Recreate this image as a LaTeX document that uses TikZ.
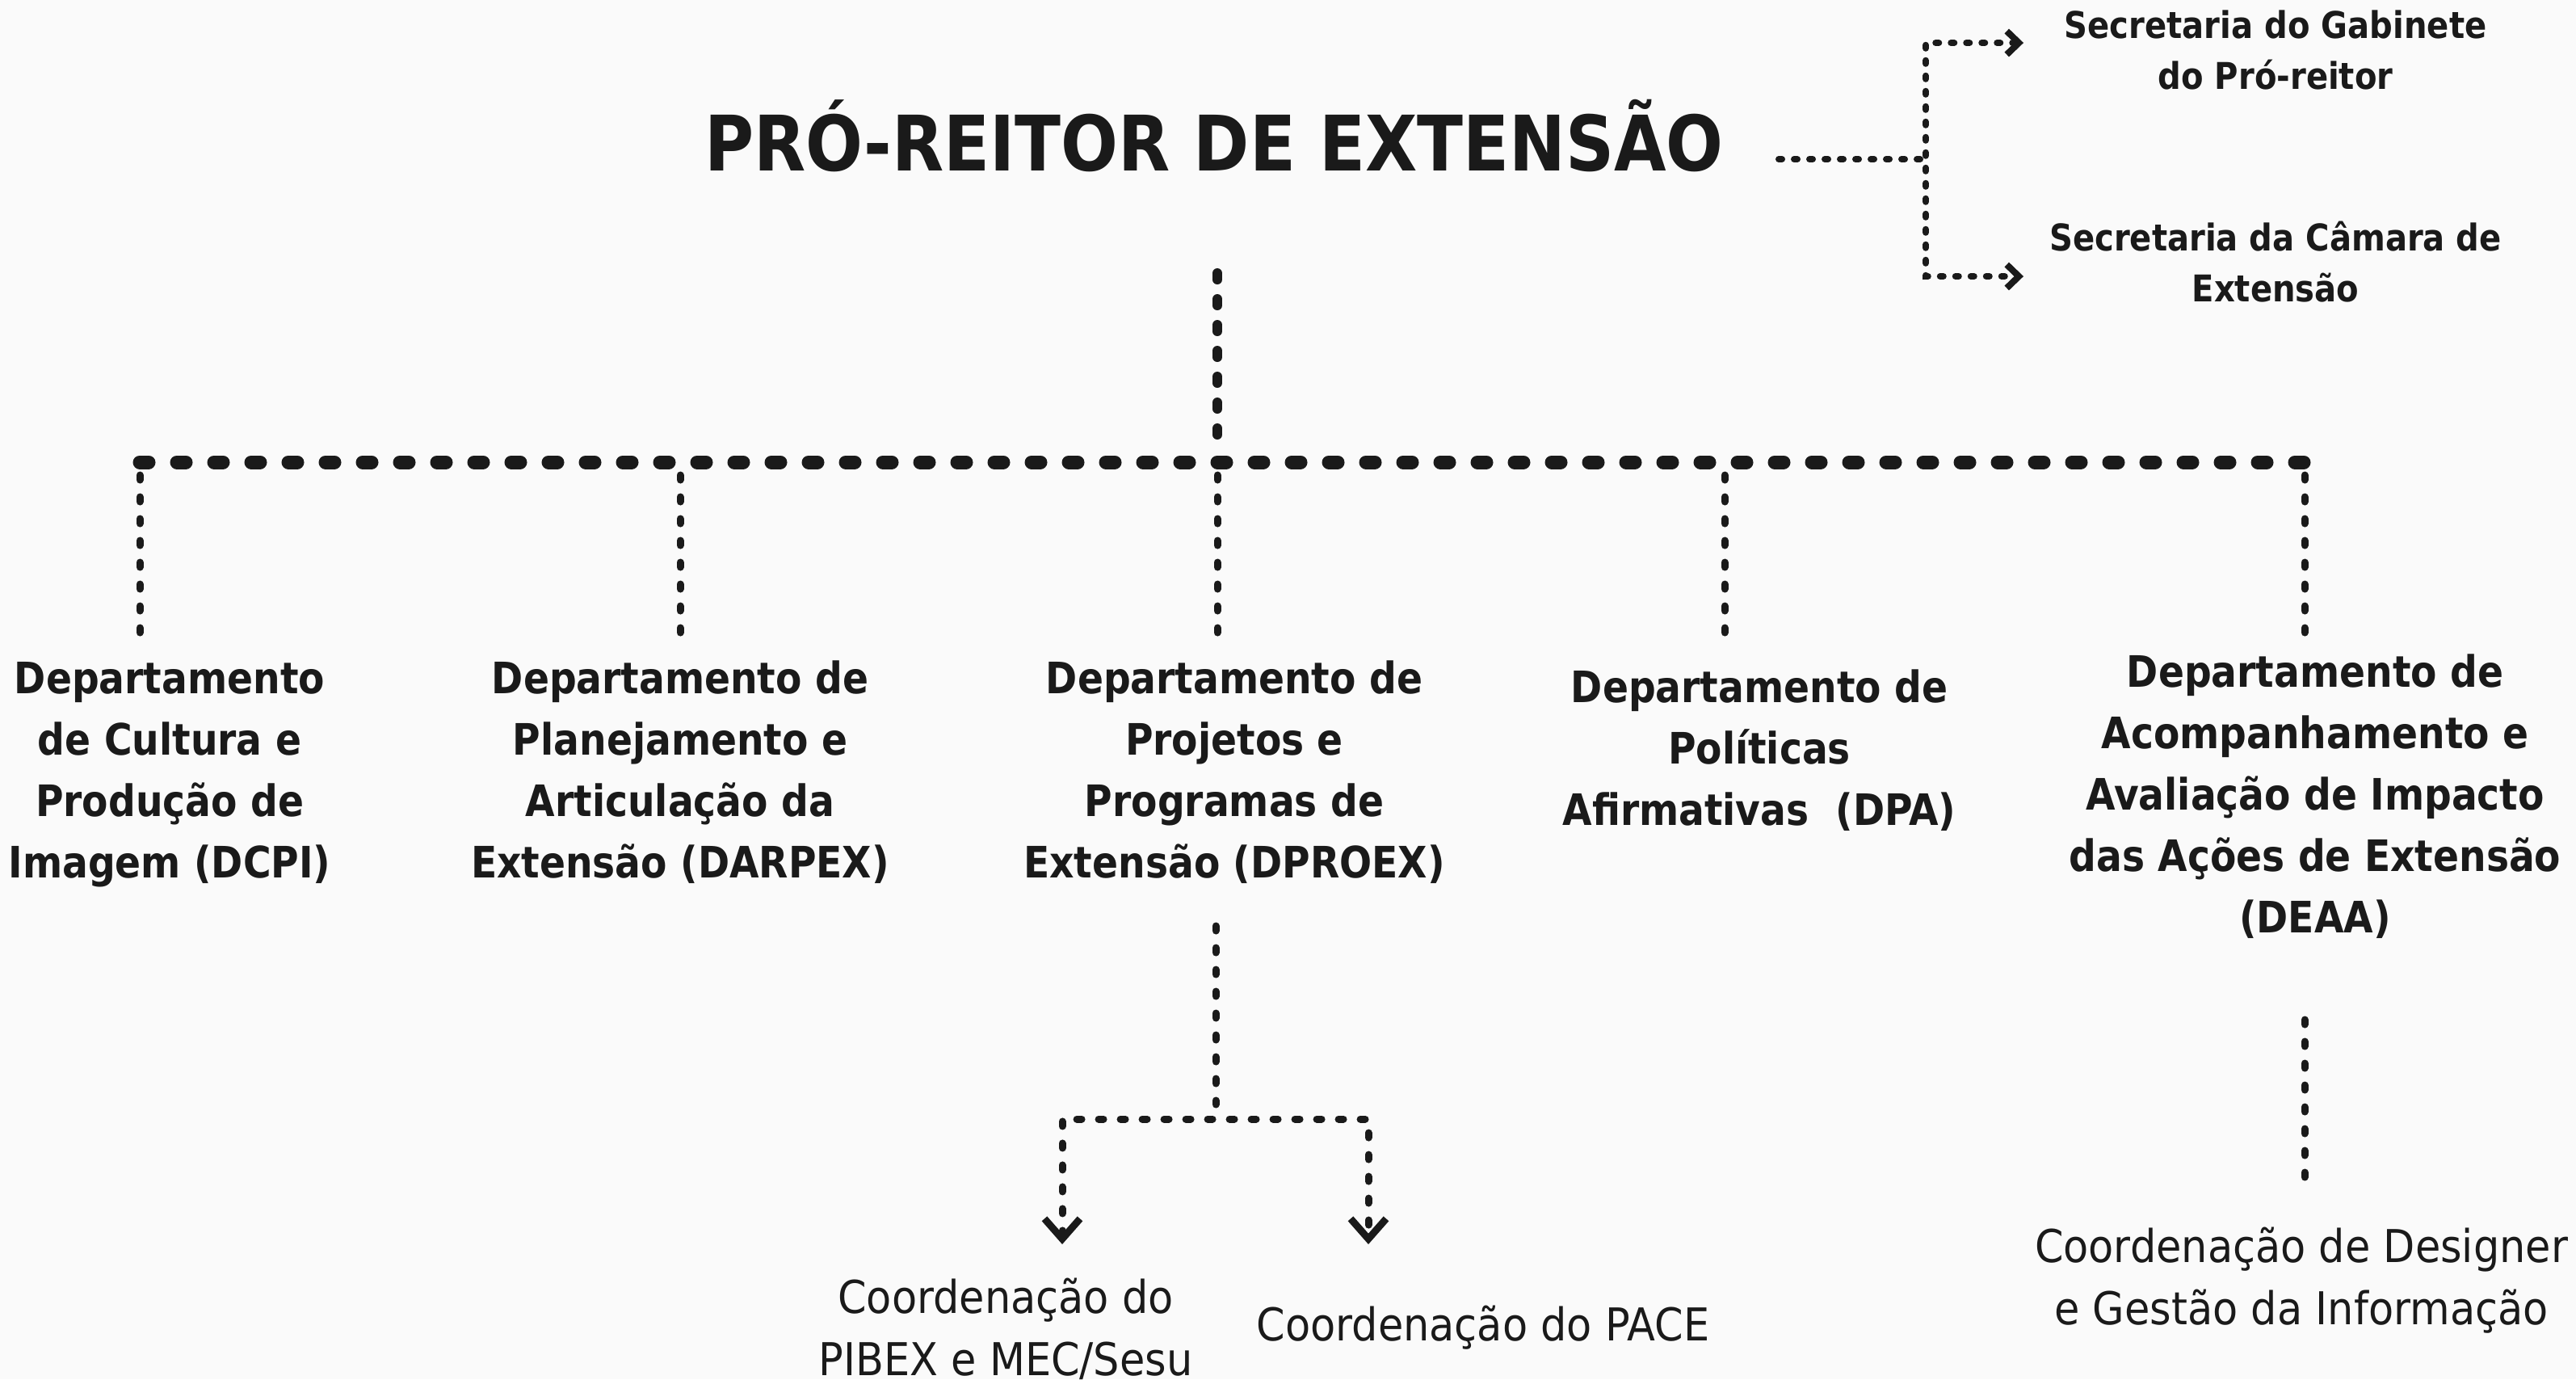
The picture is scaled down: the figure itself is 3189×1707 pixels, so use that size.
\documentclass[tikz,border=0pt]{standalone}
\usepackage{fontspec}
\setmainfont{DejaVu Sans}[FakeStretch=0.88]
\newfontfamily\regfont{DejaVu Sans}[FakeStretch=0.91]
\usetikzlibrary{arrows.meta}
\definecolor{ink}{RGB}{26,26,26}
\definecolor{bg}{RGB}{250,250,250}
\begin{document}
\begin{tikzpicture}[x=0.25pt,y=-0.25pt,
 every node/.style={inner sep=0pt,outer sep=0pt,align=center,anchor=base,text=ink},
 titletext/.style={font=\fontsize{23.7pt}{28pt}\selectfont\bfseries},
 secr/.style={font=\fontsize{11.4pt}{15.75pt}\selectfont\bfseries},
 dept/.style={font=\fontsize{13.4pt}{19pt}\selectfont\bfseries},
 coord/.style={font=\regfont\fontsize{14pt}{19.2pt}\selectfont},
 finedash/.style={draw=ink,line width=2pt,line cap=round,dash pattern=on 1pt off 3.75pt},
 thindash/.style={draw=ink,line width=2.25pt,line cap=round,dash pattern=on 1.5pt off 5.25pt},
 middash/.style={draw=ink,line width=3pt,line cap=round,dash pattern=on 2pt off 6pt},
 thickdash/.style={draw=ink,line width=4.25pt,line cap=round,dash pattern=on 2.75pt off 8.75pt},
 sidetips/.style={arrows={Straight Barb[length=3.75pt,width=7.25pt,line width=2pt]-Straight Barb[length=3.75pt,width=7.25pt,line width=2pt]}},
 downtips/.style={arrows={Straight Barb[length=6.25pt,width=11pt,line width=2.2pt]-Straight Barb[length=6.25pt,width=11pt,line width=2.2pt]}},
]
\fill[bg] (0,0) rectangle (3189,1707);
\useasboundingbox (0,0) rectangle (3189,1707);

% texts (anchor = baseline of the last line)
\node[titletext] (title) at (1503,211) {PRÓ-REITOR DE EXTENSÃO};
\node[secr] (sec1) at (2817,110) {Secretaria do Gabinete\\do Pró-reitor};
\node[secr] (sec2) at (2817,373) {Secretaria da Câmara de\\Extensão};

\node[dept] (dcpi) at (210,1086) {Departamento\\de Cultura e\\Produção de\\Imagem (DCPI)};
\node[dept] (darpex) at (842,1086) {Departamento de\\Planejamento e\\Articulação da\\Extensão (DARPEX)};
\node[dept] (dproex) at (1528,1086) {Departamento de\\Projetos e\\Programas de\\Extensão (DPROEX)};
\node[dept] (dpa) at (2178,1021) {Departamento de\\Políticas\\Afirmativas~ (DPA)};
\node[dept] (deaa) at (2866,1154) {Departamento de\\Acompanhamento e\\Avaliação de Impacto\\das Ações de Extensão\\(DEAA)};

\node[coord] (pibex) at (1245,1702) {Coordenação do\\PIBEX e MEC/Sesu};
\node[coord] (pace) at (1836,1659) {Coordenação do PACE};
\node[coord] (design) at (2849,1639) {Coordenação de Designer\\e Gestão da Informação};

% coordinates of connector ends
\coordinate (t0) at (2202,197);
\coordinate (tj) at (2384,197);
\coordinate (a1) at (2505,53);
\coordinate (a2) at (2505,342);
\coordinate (v0) at (1507,338);
\coordinate (v1) at (1507,548);
\coordinate (hl) at (173,572);
\coordinate (hr) at (2853,572);
\coordinate (p0) at (1505,1146);
\coordinate (p1) at (1505,1367);
\coordinate (pl) at (1315,1540);
\coordinate (pr) at (1694,1540);
\coordinate (e0) at (2853,1262);
\coordinate (e1) at (2853,1477);

% top right
\draw[finedash] (t0) -- (tj);
\draw[finedash,sidetips] (a1) -| (tj) |- (a2);

% main tree
\draw[middash] (v0) -- (v1);
\draw[thickdash] (hl) -- (hr);
\draw[thindash] (173,588) -- (173,803);
\draw[thindash] (842,588) -- (842,797);
\draw[thindash] (1507,588) -- (1507,803);
\draw[thindash] (2135,588) -- (2135,789);
\draw[thindash] (2853,588) -- (2853,787);

% DPROEX branch
\draw[thindash] (p0) -- (p1);
\draw[thindash,downtips] (pl) |- (1694,1385) -- (pr);

% DEAA branch
\draw[thindash] (e0) -- (e1);
\end{tikzpicture}
\end{document}
